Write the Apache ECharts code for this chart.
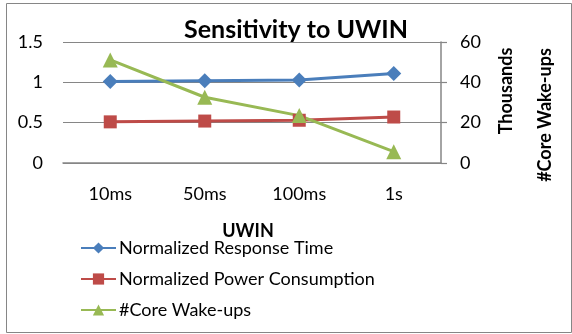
<!DOCTYPE html>
<html lang="en">
<head>
    <meta charset="UTF-8">
    <title>Sensitivity to UWIN</title>
    <script src="https://cdn.jsdelivr.net/npm/echarts@6/dist/echarts.min.js"></script>
</head>
<style>
    body{
        margin: 0;
        padding: 0;
    }
</style>
<body>
<div id="main" style="width: 572px;height:334px;"></div>
<script>
    // data
    var categories = ['10ms', '50ms', '100ms', '1s'];
    var responseTime = [1.01, 1.02, 1.03, 1.11];
    var powerUse = [0.51, 0.52, 0.53, 0.57];
    var wakeups = [51.1, 32.6, 23.5, 5.6];   // thousands
    var leftTicks = [0, 0.5, 1, 1.5];
    var rightTicks = [0, 20, 40, 60];

    var font = 'Lato, "Open Sans", sans-serif';
    var chart = echarts.init(document.getElementById('main'));
    var option = {
        animation: false,
        textStyle: { fontFamily: font },
        title: {
            text: 'Sensitivity to UWIN',
            left: 291,
            top: 12,
            textAlign: 'center',
            textStyle: { fontSize: 25, fontWeight: 'bold', color: '#000', fontFamily: font }
        },
        grid: { left: 63, right: 131, top: 42, bottom: 171, containLabel: false },
        legend: {
            orient: 'vertical',
            left: 75,
            top: 234,
            itemWidth: 35,
            itemHeight: 14,
            itemGap: 13,
            textStyle: { fontSize: 18, color: '#000', fontFamily: font, padding: [0, 0, 0, -2] },
            data: ['Normalized Response Time', 'Normalized Power Consumption', '#Core Wake-ups']
        },
        xAxis: {
            type: 'category',
            data: categories,
            axisLine: { lineStyle: { color: '#868686', width: 1.5 } },
            axisTick: { show: false },
            axisLabel: { fontSize: 18, color: '#000', margin: 22 }
        },
        yAxis: [{
            type: 'value',
            min: leftTicks[0],
            max: leftTicks[leftTicks.length - 1],
            interval: 0.5,
            axisLine: { show: false },
            axisTick: { show: false },
            splitLine: { lineStyle: { color: '#868686', width: 1.2 } },
            axisLabel: { fontSize: 18, color: '#000', margin: 20 }
        }, {
            type: 'value',
            position: 'right',
            min: rightTicks[0],
            max: rightTicks[rightTicks.length - 1],
            interval: 20,
            axisLine: { show: true, lineStyle: { color: '#868686', width: 1.5 } },
            axisTick: { show: true, inside: false, length: 6, lineStyle: { color: '#868686', width: 1.2 } },
            splitLine: { show: false },
            axisLabel: { fontSize: 18, color: '#000', margin: 19 }
        }],
        graphic: [{
            type: 'rect',
            left: 4, top: 1,
            shape: { width: 565, height: 329 },
            style: { fill: 'none', stroke: '#868686', lineWidth: 1 }
        }, {
            type: 'text',
            x: 506, y: 91,
            rotation: Math.PI / 2,
            style: { text: 'Thousands', font: 'bold 18px ' + font, fill: '#000', align: 'center', verticalAlign: 'middle' }
        }, {
            type: 'text',
            x: 545, y: 115,
            rotation: Math.PI / 2,
            style: { text: '#Core Wake-ups', font: 'bold 18px ' + font, fill: '#000', align: 'center', verticalAlign: 'middle' }
        }, {
            type: 'text',
            x: 248, y: 231,
            style: { text: 'UWIN', font: 'bold 18px ' + font, fill: '#000', align: 'center', verticalAlign: 'middle' }
        }],
        series: [{
            name: 'Normalized Response Time',
            type: 'line',
            data: responseTime,
            symbol: 'diamond',
            symbolSize: 15,
            lineStyle: { width: 3, color: '#4A7EBB' },
            itemStyle: { color: '#4A7EBB' }
        }, {
            name: 'Normalized Power Consumption',
            type: 'line',
            data: powerUse,
            symbol: 'rect',
            symbolSize: 13,
            lineStyle: { width: 3, color: '#BE4B48' },
            itemStyle: { color: '#BE4B48' }
        }, {
            name: '#Core Wake-ups',
            type: 'line',
            yAxisIndex: 1,
            data: wakeups,
            symbol: 'triangle',
            symbolSize: 15,
            lineStyle: { width: 3, color: '#98B954' },
            itemStyle: { color: '#98B954' }
        }]
    };
    chart.setOption(option);
</script>
</body>
</html>
